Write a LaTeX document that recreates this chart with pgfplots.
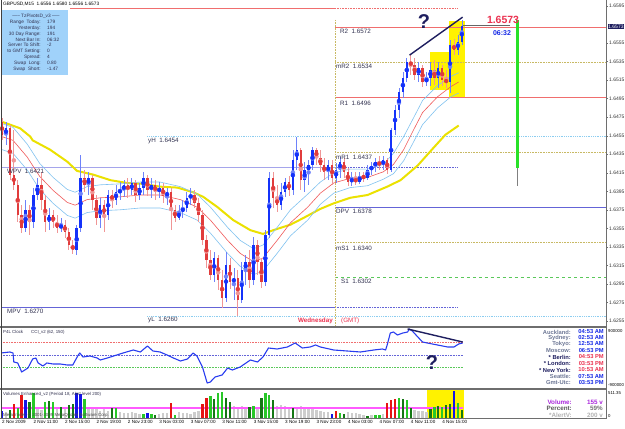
\documentclass[border=0pt]{standalone}
\usepackage{fontspec}
\setmainfont{Liberation Sans}
\usepackage{pgfplots}
\usepackage{pgfplotstable}
\pgfplotsset{compat=1.18}
\newcommand{\fs}[1]{\fontsize{#1}{#1}\selectfont}
\definecolor{cblue}{RGB}{20,50,250}
\definecolor{cbluew}{RGB}{110,130,250}
\definecolor{cred}{RGB}{225,60,60}
\definecolor{credw}{RGB}{240,150,150}
\definecolor{maY}{RGB}{235,225,0}
\definecolor{maR}{RGB}{240,90,90}
\definecolor{maB}{RGB}{130,195,240}
\definecolor{pivR}{RGB}{240,110,110}
\definecolor{pivO}{RGB}{200,185,100}
\definecolor{pivB}{RGB}{100,100,215}
\definecolor{pivL}{RGB}{165,165,235}
\definecolor{pivC}{RGB}{140,205,240}
\definecolor{pivG}{RGB}{90,200,90}
\definecolor{navyc}{RGB}{30,30,95}
\definecolor{infob}{RGB}{160,210,250}
\definecolor{limec}{RGB}{40,225,40}
\definecolor{vgreen}{RGB}{40,200,40}
\definecolor{vdkgreen}{RGB}{20,120,20}
\definecolor{vred}{RGB}{230,20,20}
\definecolor{vblue}{RGB}{20,20,230}
\definecolor{vgray}{RGB}{205,205,205}
\definecolor{pinkl}{RGB}{255,90,255}
\definecolor{framec}{RGB}{110,110,110}
\definecolor{lbl}{RGB}{50,50,80}
\definecolor{clkname}{RGB}{110,120,150}
\definecolor{clkblue}{RGB}{20,40,230}
\definecolor{clkred}{RGB}{235,50,80}
\definecolor{volpurple}{RGB}{170,40,220}
\definecolor{cciblue}{RGB}{40,60,240}

\pgfplotstableread{
h o hi lo c
0 1.6470 1.6474 1.6450 1.6456
0.5 1.6456 1.6470 1.6445 1.6463
1 1.6463 1.6467 1.6407 1.6413
1.5 1.6413 1.6461 1.6396 1.6402
2 1.6402 1.6407 1.6362 1.6369
2.5 1.6369 1.6380 1.6350 1.6355
3 1.6355 1.6386 1.6351 1.6375
3.5 1.6375 1.6380 1.6348 1.6362
4 1.6362 1.6399 1.6355 1.6391
4.5 1.6391 1.6409 1.6386 1.6402
5 1.6402 1.6416 1.6375 1.6386
5.5 1.6386 1.6391 1.6351 1.6362
6 1.6362 1.6377 1.6353 1.6369
6.5 1.6369 1.6375 1.6355 1.6362
7 1.6362 1.6369 1.6350 1.6355
7.5 1.6355 1.6366 1.6351 1.6359
8 1.6359 1.6364 1.6345 1.6351
8.5 1.6351 1.6355 1.6332 1.6337
9 1.6337 1.6342 1.6327 1.6332
9.5 1.6332 1.6359 1.6326 1.6355
10 1.6355 1.6434 1.6351 1.6409
10.5 1.6409 1.6418 1.6394 1.6402
11 1.6402 1.6416 1.6391 1.6409
11.5 1.6409 1.6413 1.6375 1.6386
12 1.6386 1.6391 1.6359 1.6366
12.5 1.6366 1.6388 1.6355 1.6380
13 1.6380 1.6386 1.6351 1.6369
13.5 1.6369 1.6396 1.6364 1.6391
14 1.6391 1.6396 1.6377 1.6386
14.5 1.6386 1.6402 1.6380 1.6394
15 1.6394 1.6405 1.6386 1.6396
15.5 1.6396 1.6407 1.6389 1.6402
16 1.6402 1.6409 1.6388 1.6396
16.5 1.6396 1.6409 1.6391 1.6404
17 1.6404 1.6407 1.6383 1.6391
17.5 1.6391 1.6404 1.6386 1.6399
18 1.6399 1.6416 1.6391 1.6409
18.5 1.6409 1.6413 1.6390 1.6396
19 1.6396 1.6409 1.6388 1.6402
19.5 1.6402 1.6407 1.6386 1.6394
20 1.6394 1.6405 1.6388 1.6399
20.5 1.6399 1.6404 1.6382 1.6390
21 1.6390 1.6399 1.6380 1.6394
21.5 1.6394 1.6399 1.6353 1.6375
22 1.6375 1.6380 1.6362 1.6366
22.5 1.6366 1.6380 1.6364 1.6373
23 1.6373 1.6386 1.6366 1.6377
23.5 1.6377 1.6394 1.6373 1.6388
24 1.6388 1.6399 1.6380 1.6391
24.5 1.6391 1.6396 1.6377 1.6383
25 1.6383 1.6388 1.6362 1.6369
25.5 1.6369 1.6375 1.6337 1.6342
26 1.6342 1.6348 1.6312 1.6321
26.5 1.6321 1.6332 1.6299 1.6305
27 1.6305 1.6330 1.6297 1.6323
27.5 1.6323 1.6326 1.6289 1.6299
28 1.6299 1.6310 1.6269 1.6280
28.5 1.6280 1.6330 1.6276 1.6315
29 1.6315 1.6323 1.6289 1.6297
29.5 1.6297 1.6312 1.6278 1.6301
30 1.6301 1.6310 1.6260 1.6278
30.5 1.6278 1.6319 1.6274 1.6310
31 1.6310 1.6326 1.6294 1.6319
31.5 1.6319 1.6332 1.6291 1.6299
32 1.6299 1.6346 1.6294 1.6337
32.5 1.6337 1.6342 1.6305 1.6319
33 1.6319 1.6323 1.6291 1.6297
33.5 1.6297 1.6353 1.6293 1.6348
34 1.6348 1.6416 1.6345 1.6409
34.5 1.6409 1.6416 1.6377 1.6388
35 1.6388 1.6402 1.6373 1.6380
35.5 1.6380 1.6404 1.6375 1.6394
36 1.6394 1.6409 1.6389 1.6405
36.5 1.6405 1.6412 1.6390 1.6396
37 1.6396 1.6440 1.6391 1.6429
37.5 1.6429 1.6454 1.6418 1.6440
38 1.6440 1.6442 1.6396 1.6407
38.5 1.6407 1.6427 1.6394 1.6418
39 1.6418 1.6429 1.6402 1.6423
39.5 1.6423 1.6443 1.6418 1.6440
40 1.6440 1.6442 1.6423 1.6431
40.5 1.6431 1.6440 1.6416 1.6423
41 1.6423 1.6431 1.6407 1.6416
41.5 1.6416 1.6429 1.6407 1.6423
42 1.6423 1.6429 1.6402 1.6409
42.5 1.6409 1.6426 1.6404 1.6418
43 1.6418 1.6432 1.6409 1.6427
43.5 1.6427 1.6431 1.6409 1.6416
44 1.6416 1.6420 1.6401 1.6405
44.5 1.6405 1.6416 1.6401 1.6409
45 1.6409 1.6416 1.6402 1.6405
45.5 1.6405 1.6416 1.6403 1.6412
46 1.6412 1.6416 1.6405 1.6409
46.5 1.6409 1.6423 1.6407 1.6418
47 1.6418 1.6427 1.6413 1.6422
47.5 1.6422 1.6431 1.6416 1.6427
48 1.6427 1.6433 1.6418 1.6423
48.5 1.6423 1.6433 1.6418 1.6429
49 1.6429 1.6431 1.6414 1.6418
49.5 1.6418 1.6463 1.6416 1.6461
50 1.6461 1.6488 1.6456 1.6483
50.5 1.6483 1.6507 1.6474 1.6502
51 1.6502 1.6524 1.6496 1.6517
51.5 1.6517 1.6539 1.6513 1.6535
52 1.6535 1.6542 1.6521 1.6531
52.5 1.6531 1.6539 1.6515 1.6521
53 1.6521 1.6535 1.6513 1.6528
53.5 1.6528 1.6531 1.6508 1.6513
54 1.6513 1.6524 1.6509 1.6517
54.5 1.6517 1.6535 1.6509 1.6526
55 1.6526 1.6537 1.6510 1.6517
55.5 1.6517 1.6535 1.6507 1.6528
56 1.6528 1.6531 1.6509 1.6515
56.5 1.6515 1.6526 1.6507 1.6513
57 1.6513 1.6558 1.6501 1.6553
57.5 1.6553 1.6560 1.6542 1.6548
58 1.6548 1.6564 1.6542 1.6556
58.5 1.6556 1.6580 1.6553 1.6573
}\candles

\begin{document}
\begin{tikzpicture}
\fill[white] (0,0) rectangle (625bp,429bp);
\path[use as bounding box] (0,0) rectangle (625bp,429bp);

% ---------------- main price panel ----------------
\begin{axis}[at={(1bp,103bp)}, anchor=south west, scale only axis,
  width=605bp, height=326bp,
  xmin=-0.13, xmax=76.84, ymin=1.62496, ymax=1.66015,
  axis line style={draw=none}, xtick=\empty,
  ytick={1.6255,1.6275,1.6295,1.6315,1.6335,1.6355,1.6375,1.6395,1.6415,1.6435,1.6455,1.6475,1.6495,1.6515,1.6535,1.6555,1.6595},
  ytick pos=right, yticklabel pos=right, tick align=outside,
  major tick length=2bp, tick style={framec, line width=0.4bp},
  scaled y ticks=false,
  /pgf/number format/assume math mode=true,
  yticklabel style={font=\fs{5}, color=black!80, inner sep=1bp,
    /pgf/number format/fixed, /pgf/number format/fixed zerofill,
    /pgf/number format/precision=4}]
% yellow highlight boxes
\addplot[fill=yellow, draw=none] coordinates {(54.4,1.6504) (57.1,1.6504) (57.1,1.6545) (54.4,1.6545)} -- cycle;
\addplot[fill=yellow, draw=none] coordinates {(56.9,1.6497) (58.85,1.6497) (58.85,1.6579) (56.9,1.6579)} -- cycle;
% pivot lines
\addplot[pivR, line width=0.8bp] coordinates {(8.7,1.6592) (42.4,1.6592)};
\addplot[pivR, line width=0.6bp, densely dotted] coordinates {(42.4,1.6592) (57.96,1.6592)};
\addplot[pivR, line width=0.8bp] coordinates {(42.4,1.6572) (76.84,1.6572)};
\addplot[pivO, line width=0.6bp, densely dotted] coordinates {(42.4,1.6534) (76.84,1.6534)};
\addplot[pivR, line width=0.8bp] coordinates {(42.4,1.6496) (76.84,1.6496)};
\addplot[pivC, line width=0.8bp, densely dotted] coordinates {(18.5,1.6454) (76.84,1.6454)};
\addplot[pivO, line width=0.6bp, densely dotted] coordinates {(42.4,1.6437) (76.84,1.6437)};
\addplot[pivL, line width=0.8bp] coordinates {(-0.13,1.6421) (42.4,1.6421)};
\addplot[pivB, line width=0.6bp, densely dotted] coordinates {(42.4,1.6421) (57.96,1.6421)};
\addplot[pivB, line width=0.8bp] coordinates {(42.4,1.6378) (76.84,1.6378)};
\addplot[pivO, line width=0.6bp, densely dotted] coordinates {(42.4,1.6340) (76.84,1.6340)};
\addplot[pivG, line width=0.6bp, dashed] coordinates {(42.4,1.6302) (76.84,1.6302)};
\addplot[pivB, line width=0.8bp] coordinates {(-0.13,1.6270) (42.4,1.6270)};
\addplot[pivB, line width=0.6bp, densely dotted] coordinates {(42.4,1.6270) (57.96,1.6270)};
\addplot[pivC, line width=0.8bp, densely dotted] coordinates {(18.5,1.6260) (76.84,1.6260)};
\addplot[pivO, line width=0.6bp, densely dotted] coordinates {(42.4,1.6580) (42.4,1.62496)};
% moving averages
\addplot[maY, line width=2bp] coordinates {(0,1.6470) (1.0,1.6467) (2.3,1.6463) (3.6,1.6454) (3.9,1.6450) (6.1,1.6440) (8.3,1.6427) (9.55,1.6417) (11.6,1.6413) (13.8,1.6407) (15.9,1.6404) (18.0,1.6403) (20.1,1.6400) (22.3,1.6399) (24.3,1.6394) (25.6,1.6389) (27.4,1.6378) (29.4,1.6364) (31.6,1.6353) (33.2,1.6349) (34.5,1.6353) (36.7,1.6359) (38.3,1.6366) (40.5,1.6376) (42.2,1.6382) (44.3,1.6388) (46.5,1.6391) (49.0,1.6400) (50.7,1.6407) (52.9,1.6423) (54.9,1.6442) (56.4,1.6456) (58.1,1.6466)};
\addplot[maB, line width=0.6bp] coordinates {(0,1.6468) (1.4,1.6464) (3.2,1.6446) (4.8,1.6425) (6.5,1.6410) (8.3,1.6397) (9.3,1.6394) (10.8,1.6400) (12.5,1.6402) (15.0,1.6403) (17.6,1.6405) (20.1,1.6405) (22.7,1.6400) (24.8,1.6392) (26.5,1.6378) (28.7,1.6356) (30.3,1.6342) (32.0,1.6333) (33.2,1.6337) (35.0,1.6356) (36.7,1.6375) (38.9,1.6392) (40.5,1.6405) (42.2,1.6415) (44.3,1.6419) (46.5,1.6419) (48.5,1.6424) (49.8,1.6436) (51.1,1.6454) (52.4,1.6475) (53.5,1.6493) (55.4,1.6509) (57.1,1.6519) (58.1,1.6523)};
\addplot[maB, line width=0.6bp] coordinates {(0,1.6440) (1.4,1.6436) (3.2,1.6418) (4.8,1.6397) (6.5,1.6382) (8.3,1.6369) (9.3,1.6366) (10.8,1.6372) (12.5,1.6374) (15.0,1.6375) (17.6,1.6377) (20.1,1.6377) (22.7,1.6372) (24.8,1.6364) (26.5,1.6350) (28.7,1.6328) (30.3,1.6314) (32.0,1.6305) (33.2,1.6309) (35.0,1.6328) (36.7,1.6347) (38.9,1.6364) (40.5,1.6381) (42.2,1.6393) (44.3,1.6399) (46.5,1.6401) (48.5,1.6408) (49.8,1.6414) (51.1,1.6428) (52.4,1.6449) (53.5,1.6467) (55.4,1.6485) (57.1,1.6497) (58.1,1.6501)};
\addplot[maR, line width=0.6bp] coordinates {(0,1.6454) (1.4,1.6450) (3.2,1.6432) (4.8,1.6411) (6.5,1.6396) (8.3,1.6383) (9.3,1.6380) (10.8,1.6386) (12.5,1.6388) (15.0,1.6389) (17.6,1.6391) (20.1,1.6391) (22.7,1.6386) (24.8,1.6378) (26.5,1.6364) (28.7,1.6342) (30.3,1.6328) (32.0,1.6319) (33.2,1.6323) (35.0,1.6342) (36.7,1.6361) (38.9,1.6378) (40.5,1.6393) (42.2,1.6404) (44.3,1.6409) (46.5,1.6410) (48.5,1.6416) (49.8,1.6424) (51.1,1.6440) (52.4,1.6462) (53.5,1.6480) (55.4,1.6497) (57.1,1.6508) (58.1,1.6513)};
% candles: wicks
\addplot[cbluew, only marks, mark=none,
  restrict expr to domain={\thisrow{c}-\thisrow{o}}{0:1},
  error bars/.cd, y dir=both, y explicit, error mark=none,
  error bar style={line width=0.7bp, draw=cbluew}]
  table[x=h, y expr={(\thisrow{hi}+\thisrow{lo})/2}, y error expr={(\thisrow{hi}-\thisrow{lo})/2}] {\candles};
\addplot[credw, only marks, mark=none,
  restrict expr to domain={\thisrow{c}-\thisrow{o}}{-1:-0.00001},
  error bars/.cd, y dir=both, y explicit, error mark=none,
  error bar style={line width=0.7bp, draw=credw}]
  table[x=h, y expr={(\thisrow{hi}+\thisrow{lo})/2}, y error expr={(\thisrow{hi}-\thisrow{lo})/2}] {\candles};
% candles: bodies
\addplot[cblue, only marks, mark=none,
  restrict expr to domain={\thisrow{c}-\thisrow{o}}{0:1},
  error bars/.cd, y dir=both, y explicit, error mark=none,
  error bar style={line width=2.4bp, draw=cblue}]
  table[x=h, y expr={(\thisrow{o}+\thisrow{c})/2}, y error expr={abs(\thisrow{c}-\thisrow{o})/2}] {\candles};
\addplot[cred, only marks, mark=none,
  restrict expr to domain={\thisrow{c}-\thisrow{o}}{-1:-0.00001},
  error bars/.cd, y dir=both, y explicit, error mark=none,
  error bar style={line width=2.4bp, draw=cred}]
  table[x=h, y expr={(\thisrow{o}+\thisrow{c})/2}, y error expr={abs(\thisrow{c}-\thisrow{o})/2}] {\candles};
% day range bar
\addplot[limec, line width=2.6bp] coordinates {(65.6,1.6580) (65.6,1.6420)};
\addplot[gray, line width=0.6bp] coordinates {(65.6,1.6420) (65.6,1.6401)};
% current price marker
\addplot[black!60, line width=1.5bp] coordinates {(58.7,1.6574) (64.6,1.6574)};
% trend line
\addplot[navyc, line width=1.4bp] coordinates {(51.85,1.6542) (58.6,1.6583)};
\coordinate (cp) at (axis cs:76.84,1.6573);
\end{axis}

% ---------------- CCI panel ----------------
\begin{axis}[at={(1bp,41bp)}, anchor=south west, scale only axis,
  width=605bp, height=60bp,
  xmin=-0.13, xmax=76.84, ymin=-264, ymax=216,
  axis line style={draw=none}, xtick=\empty, ytick=\empty]
\addplot[pivR, line width=0.6bp, densely dotted] coordinates {(-0.13,100) (58.6,100)};
\addplot[pivB, line width=0.6bp, densely dotted] coordinates {(-0.13,0) (58.6,0)};
\addplot[pivG, line width=0.6bp, densely dotted] coordinates {(-0.13,-100) (58.6,-100)};
\addplot[cciblue, line width=1.1bp, line join=round] coordinates {(-0.13,16) (1.0,24) (1.4,16) (1.5,-56) (2.0,-64) (2.5,-136) (2.9,-120) (3.3,-104) (3.9,-32) (4.3,-24) (4.6,-64) (5.2,-88) (5.7,-64) (6.5,-72) (7.4,-72) (8.3,-80) (9.0,-80) (9.7,0) (9.9,16) (10.3,-16) (11.2,-8) (12.1,-24) (12.5,-40) (13.4,-24) (14.6,0) (15.4,16) (16.7,40) (17.6,24) (18.5,72) (19.2,32) (20.1,24) (21.0,0) (21.8,-24) (22.7,-48) (23.6,-32) (24.3,16) (24.8,-8) (25.5,-96) (26.1,-224) (26.5,-216) (27.1,-176) (28.0,-160) (28.7,-104) (29.3,-120) (30.3,-96) (31.6,-40) (32.5,-56) (33.2,-16) (33.9,56) (35.0,48) (36.3,64) (37.3,96) (38.2,56) (39.2,64) (39.9,80) (40.5,64) (42.2,40) (43.9,32) (45.6,24) (47.3,40) (48.4,48) (48.8,40) (49.0,80) (49.4,176) (49.8,184) (50.3,160) (51.0,176) (51.6,184) (51.8,208) (52.2,192) (52.9,144) (53.5,104) (54.1,96) (55.4,80) (56.7,64) (57.5,64) (58.1,88) (58.6,96)};
\addplot[navyc, line width=1.4bp] coordinates {(51.6,208) (58.6,104)};
\end{axis}

% ---------------- Volume panel ----------------
\begin{axis}[at={(1bp,11bp)}, anchor=south west, scale only axis,
  width=605bp, height=28bp,
  xmin=-0.13, xmax=76.84, ymin=0, ymax=560,
  axis line style={draw=none}, ytick=\empty,
  xtick={0,4,8,12,16,20,24,28,32,36,40,44,48,52,56},
  xticklabels={2 Nov 2009,2 Nov 11:00,2 Nov 15:00,2 Nov 19:00,2 Nov 23:00,3 Nov 03:00,3 Nov 07:00,3 Nov 11:00,3 Nov 15:00,3 Nov 19:00,3 Nov 23:00,4 Nov 03:00,4 Nov 07:00,4 Nov 11:00,4 Nov 15:00},
  xtick pos=bottom, tick align=outside, major tick length=1.5bp,
  tick style={framec, line width=0.4bp},
  xticklabel style={font=\fs{4.6}, anchor=north west, inner sep=0.5bp, xshift=-0.5bp, yshift=-0.3bp}]
\addplot[fill=yellow, draw=none] coordinates {(54.1,0) (58.75,0) (58.75,560) (54.1,560)} -- cycle;
\addplot[ycomb, vgray, line width=2.4bp] coordinates {(0.5,130) (4.5,220) (5,165) (7,200) (8,185) (11,220) (11.5,175) (12,200) (12.5,150) (13,175) (13.5,140) (15,130) (15.5,100) (16,110) (16.5,120) (17,100) (17.5,90) (20,90) (20.5,110) (21,100) (22.5,120) (23,110) (23.5,100) (24,90) (24.5,130) (25,150) (29.5,240) (30,220) (30.5,250) (31,230) (32.5,220) (35,240) (35.5,260) (36,240) (36.5,220) (37.5,220) (38,240) (38.5,220) (39,200) (39.5,175) (40,165) (40.5,150) (41,130) (41.5,120) (44,120) (44.5,110) (45,100) (45.5,76) (46,66) (47,55) (48.5,90) (52.5,165) (53,150) (53.5,140) (54,130)};
\addplot[pinkl, line width=1.3bp] coordinates {(-0.13,200) (58.6,200)};
\addplot[ycomb, vgreen, line width=2.4bp] coordinates {(2,200) (4,500) (5.5,320) (6.5,320) (10.5,390) (14.5,210) (18,80) (19,76) (22,66) (26.5,440) (27.5,500) (28,520) (32,250) (33.5,500) (34,470) (43,100) (47.5,60) (48,66) (50.5,410) (51.5,370) (55,220) (56,220) (58,300)};
\addplot[ycomb, vdkgreen, line width=2.4bp] coordinates {(1,160) (3.5,330) (6,340) (7.5,220) (8.5,260) (9,280) (14,200) (19.5,66) (27,380) (28.5,410) (29,330) (31.5,220) (33,410) (34.5,360) (37,200) (43.5,90) (46.5,33) (51,390) (52,200) (54.5,185) (55.5,240) (56.5,260) (57,280) (58.5,155)};
\addplot[ycomb, vred, line width=2.4bp] coordinates {(1.5,280) (2.5,460) (21.5,300) (25.5,280) (26,410) (42.5,140) (49,300) (49.5,360) (50,380)};
\addplot[ycomb, vblue, line width=2.4bp] coordinates {(0,140) (3,360) (9.5,500) (10,480) (18.5,100) (42,90) (57.5,540)};
\end{axis}

% ---------------- frames ----------------
\fill[framec] (0,101bp) rectangle (606.5bp,103bp);
\fill[framec] (0,39bp) rectangle (606.5bp,41bp);
\draw[framec, line width=0.8bp] (0,10.6bp) -- (606.5bp,10.6bp);
\draw[black!75, line width=1bp] (1bp,10.6bp) -- (1bp,429bp);
\draw[framec, line width=0.8bp] (606bp,10.6bp) -- (606bp,429bp);

% ---------------- texts ----------------
\node[anchor=west, inner sep=0, font=\fs{4.8}] at (3bp,425bp) {GBPUSD,M15\ \ 1.6556 1.6580 1.6556 1.6573};
\fill[infob] (2bp,354bp) rectangle (68bp,419bp);
\node[inner sep=0, font=\fs{4.8}, lbl] at (36bp,413bp) {----- TzPivotsD\_v3 -----};
\begin{scope}[every node/.style={inner sep=0, font=\fs{4.8}, text=lbl}]
\node[anchor=east] at (41bp,407bp) {Range\ \ Today:};  \node[anchor=west] at (47bp,407bp) {179};
\node[anchor=east] at (41bp,401bp) {Yesterday:};       \node[anchor=west] at (47bp,401bp) {194};
\node[anchor=east] at (41bp,395bp) {30 Day Range:};    \node[anchor=west] at (47bp,395bp) {191};
\node[anchor=east] at (41bp,389.5bp) {Next Bar In:};   \node[anchor=west] at (47bp,389.5bp) {06:32};
\node[anchor=east] at (41bp,384bp) {Server To Shift:}; \node[anchor=west] at (47bp,384bp) {-2};
\node[anchor=east] at (41bp,378bp) {to GMT Setting:};  \node[anchor=west] at (47bp,378bp) {0};
\node[anchor=east] at (41bp,372bp) {Spread:};          \node[anchor=west] at (47bp,372bp) {4};
\node[anchor=east] at (41bp,366bp) {Swap\ \ Long:};    \node[anchor=west] at (47bp,366bp) {0.80};
\node[anchor=east] at (41bp,360bp) {Swap\ \ Short:};   \node[anchor=west] at (47bp,360bp) {-1.47};
\end{scope}

\begin{scope}[every node/.style={inner sep=0, font=\fs{6.3}, text=lbl, anchor=west}]
\node at (340bp,398bp) {R2\ \ 1.6572};
\node at (336bp,363bp) {mR2\ \ 1.6534};
\node at (340bp,326bp) {R1\ \ 1.6496};
\node at (148bp,288bp) {yH\ \ 1.6454};
\node at (336bp,272bp) {mR1\ \ 1.6437};
\node at (7bp,258bp) {WPV\ \ 1.6421};
\node at (336bp,218bp) {DPV\ \ 1.6378};
\node at (336bp,181bp) {mS1\ \ 1.6340};
\node at (341bp,148bp) {S1\ \ 1.6302};
\node at (7bp,118bp) {MPV\ \ 1.6270};
\node at (148bp,109bp) {yL\ \ 1.6260};
\end{scope}
\node[anchor=east, inner sep=0, font=\fs{6.3}\bfseries, text=clkred] at (333bp,108bp) {Wednesday};
\node[anchor=west, inner sep=0, font=\fs{6.3}, text=clkred] at (341bp,108bp) {(GMT)};

\node[font=\fs{20}\bfseries, text=navyc, inner sep=0] at (424bp,407bp) {?};
\node[font=\fs{20}\bfseries, text=navyc, inner sep=0] at (432bp,66bp) {?};
\node[font=\fs{10.5}\bfseries, text=clkred, inner sep=0] at (503bp,409bp) {1.6573};
\node[font=\fs{7}\bfseries, text=clkblue, inner sep=0] at (502bp,396bp) {06:32};
\node[anchor=west, fill=navyc, text=white, font=\fs{5}, inner sep=0.6bp] at ([xshift=1.5bp]cp) {1.6573};

% CCI panel texts
\node[anchor=west, inner sep=0, font=\fs{4.4}, text=lbl] at (3bp,97bp) {P4L Clock};
\node[anchor=west, inner sep=0, font=\fs{4.4}, text=lbl] at (31bp,97bp) {CCI\_v2 (62, 150)};
\node[anchor=west, inner sep=0, font=\fs{4.3}] at (608bp,98bp) {900000};
\node[anchor=west, inner sep=0, font=\fs{4.3}] at (608bp,44bp) {-900000};
\begin{scope}[every node/.style={inner sep=0, font=\fs{5.8}\bfseries}]
\node[anchor=east, text=clkname] at (571bp,97bp) {Auckland:};   \node[anchor=east, text=clkblue] at (604bp,97bp) {04:53 AM};
\node[anchor=east, text=clkname] at (571bp,91bp) {Sydney:};     \node[anchor=east, text=clkblue] at (604bp,91bp) {02:53 AM};
\node[anchor=east, text=clkname] at (571bp,85bp) {Tokyo:};      \node[anchor=east, text=clkblue] at (604bp,85bp) {12:53 AM};
\node[anchor=east, text=clkname] at (571bp,78.5bp) {Moscow:};   \node[anchor=east, text=clkblue] at (604bp,78.5bp) {06:53 PM};
\node[anchor=east, text=navyc] at (571bp,72bp) {* Berlin:};     \node[anchor=east, text=clkred] at (604bp,72bp) {04:53 PM};
\node[anchor=east, text=navyc] at (571bp,65.5bp) {* London:};   \node[anchor=east, text=clkred] at (604bp,65.5bp) {03:53 PM};
\node[anchor=east, text=navyc] at (571bp,59bp) {* New York:};   \node[anchor=east, text=clkred] at (604bp,59bp) {10:53 AM};
\node[anchor=east, text=clkname] at (571bp,52.5bp) {Seattle:};  \node[anchor=east, text=clkblue] at (604bp,52.5bp) {07:53 AM};
\node[anchor=east, text=clkname] at (571bp,46bp) {Gmt-Utc:};    \node[anchor=east, text=clkblue] at (604bp,46bp) {03:53 PM};
\end{scope}

% Volume panel texts
\node[anchor=west, inner sep=0, font=\fs{4.4}, text=lbl] at (3bp,35bp) {Volumes Enhanced\_v2 (Period 18, Alert level 200)};
\node[anchor=west, inner sep=0, font=\fs{4.4}, text=black!70] at (3bp,13.5bp) {MetaTrader, \textcopyright{} 2001-2009 MetaQuotes Software Corp.};
\node[anchor=west, inner sep=0, font=\fs{4.3}] at (608bp,36bp) {511.35};
\node[anchor=west, inner sep=0, font=\fs{4.3}] at (608bp,13bp) {0};
\begin{scope}[every node/.style={inner sep=0, font=\fs{6.3}\bfseries}]
\node[anchor=east, text=volpurple] at (572bp,27bp) {Volume:};  \node[anchor=east, text=volpurple] at (603bp,27bp) {155 v};
\node[anchor=east, text=black!65] at (572bp,20.5bp) {Percent:}; \node[anchor=east, text=black!55] at (603bp,20.5bp) {59\%};
\node[anchor=east, text=black!30] at (572bp,14bp) {*AlertV:}; \node[anchor=east, text=black!30] at (603bp,14bp) {200 v};
\end{scope}
\end{tikzpicture}
\end{document}
